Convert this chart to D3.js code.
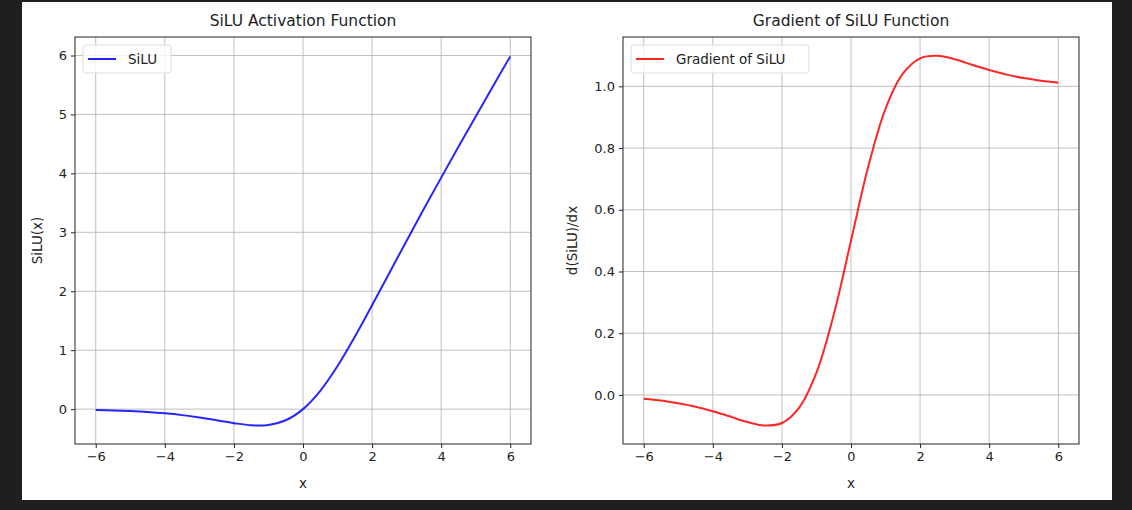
<!DOCTYPE html>
<html><head><meta charset="utf-8">
<script src="https://cdn.jsdelivr.net/npm/d3@7"></script>
<style>
body{margin:0;background:#1f1f1f;}
text{font-family:"DejaVu Sans",sans-serif;fill:#222;}
</style></head>
<body><div id="chart"></div>
<script>
// values
const xs = [-6,-5.5,-5,-4.5,-4,-3.5,-3,-2.5,-2,-1.5,-1,-0.5,0,0.5,1,1.5,2,2.5,3,3.5,4,4.5,5,5.5,6]
const siluVals = [-0.015,-0.022,-0.034,-0.050,-0.072,-0.102,-0.142,-0.190,-0.238,-0.274,-0.269,-0.189,0,0.311,0.731,1.226,1.762,2.310,2.858,3.398,3.928,4.450,4.967,5.478,5.985]
const gradVals = [-0.012,-0.018,-0.027,-0.038,-0.053,-0.070,-0.088,-0.099,-0.091,-0.041,0.072,0.260,0.5,0.740,0.928,1.041,1.091,1.099,1.088,1.070,1.053,1.038,1.027,1.018,1.012]
const xTicks = [-6,-4,-2,0,2,4,6]
const siluTicks = [0,1,2,3,4,5,6]
const gradTicks = [0,0.2,0.4,0.6,0.8,1.0]

const svg = d3.select('#chart').append('svg').attr('width',1132).attr('height',510)
svg.append('rect').attr('x',22).attr('y',2).attr('width',1090).attr('height',498).attr('fill','#fff')

function panel({left, right, yDomain, vals, yTicks, yFmt, color, title, ylabel, ylabelOff, legend, legendW}) {
  const top = 37, bottom = 444
  const x = d3.scaleLinear().domain([-6.6,6.6]).range([left,right])
  const y = d3.scaleLinear().domain(yDomain).range([bottom,top])
  const g = svg.append('g')
  //网格
  g.selectAll('.vx').data(xTicks).join('line')
    .attr('x1',d=>x(d)).attr('x2',d=>x(d)).attr('y1',top).attr('y2',bottom)
    .attr('stroke','#b0b0b0').attr('stroke-width',0.8)
  g.selectAll('.hy').data(yTicks).join('line')
    .attr('y1',d=>y(d)).attr('y2',d=>y(d)).attr('x1',left).attr('x2',right)
    .attr('stroke','#b0b0b0').attr('stroke-width',0.8)
  //坐标轴
  const ax = g.append('g').attr('transform',`translate(0,${bottom})`)
    .call(d3.axisBottom(x).tickValues(xTicks).tickSize(4).tickPadding(4).tickFormat(d=>d<0?'\u2212'+(-d):d))
  const ay = g.append('g').attr('transform',`translate(${left},0)`)
    .call(d3.axisLeft(y).tickValues(yTicks).tickSize(4).tickPadding(4).tickFormat(yFmt))
  for (const a of [ax, ay]) {
    a.select('.domain').remove()
    a.selectAll('text').attr('font-size',13).style('font-family','DejaVu Sans').attr('fill','#222')
    a.selectAll('line').attr('stroke','#222')
  }
  //曲线
  g.append('path').datum(xs.map((d,i)=>[d,vals[i]]))
    .attr('d',d3.line().x(d=>x(d[0])).y(d=>y(d[1])).curve(d3.curveCatmullRom.alpha(0.5)))
    .attr('fill','none').attr('stroke',color).attr('stroke-width',2).attr('opacity',0.85)
  g.append('rect').attr('x',left).attr('y',top).attr('width',right-left).attr('height',bottom-top)
    .attr('fill','none').attr('stroke','#222').attr('stroke-width',1)
  //标题
  g.append('text').attr('x',(left+right)/2).attr('y',top-11).attr('text-anchor','middle').attr('font-size',15.5).text(title)
  g.append('text').attr('x',(left+right)/2).attr('y',bottom+44).attr('text-anchor','middle').attr('font-size',13.5).text('x')
  g.append('text').attr('transform',`translate(${left-ylabelOff},${(top+bottom)/2}) rotate(-90)`)
    .attr('text-anchor','middle').attr('font-size',13.5).text(ylabel)
  //图例
  const lg = g.append('g').attr('transform',`translate(${left+8},${top+8})`)
  lg.append('rect').attr('width',legendW).attr('height',28).attr('rx',3).attr('fill','#fff').attr('fill-opacity',0.8).attr('stroke','#ddd')
  lg.append('line').attr('x1',5).attr('x2',33).attr('y1',14).attr('y2',14).attr('stroke',color).attr('stroke-width',2).attr('opacity',0.85)
  lg.append('text').attr('x',45).attr('y',18.5).attr('font-size',13.5).text(legend)
}

panel({left:75, right:531, yDomain:[-0.592,6.314], vals:siluVals, yTicks:siluTicks, yFmt:d=>d,
  color:'blue', title:'SiLU Activation Function', ylabel:'SiLU(x)', ylabelOff:33, legend:'SiLU', legendW:88})
panel({left:623, right:1079, yDomain:[-0.159,1.16], vals:gradVals, yTicks:gradTicks, yFmt:d3.format('.1f'),
  color:'red', title:'Gradient of SiLU Function', ylabel:'d(SiLU)/dx', ylabelOff:46, legend:'Gradient of SiLU', legendW:178})
</script></body></html>
